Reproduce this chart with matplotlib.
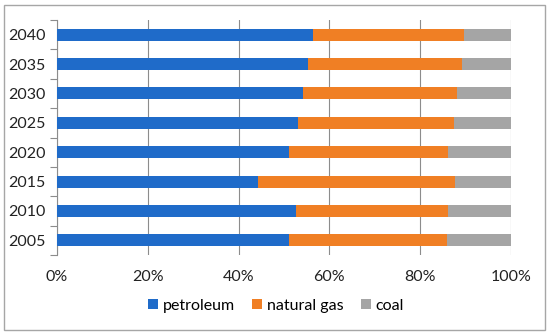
import numpy as np
import matplotlib
matplotlib.use('Agg')
import matplotlib.pyplot as plt
from matplotlib.patches import Rectangle, Patch

# Shares (percent)
years = ['2005', '2010', '2015', '2020', '2025', '2030', '2035', '2040']
petroleum = [51.1, 52.6, 44.2, 51.1, 53.0, 54.1, 55.3, 56.4]
natural_gas = [34.7, 33.5, 43.5, 35.0, 34.5, 33.9, 33.9, 33.2]
coal = [14.2, 13.9, 12.3, 13.9, 12.5, 12.0, 10.8, 10.4]

series_names = ['petroleum', 'natural gas', 'coal']
colors = ['#1F6BC9', '#F07F24', '#A5A5A5']

plt.rcParams['font.family'] = ['Lato', 'DejaVu Sans']

fig = plt.figure(figsize=(5.5, 3.34), dpi=100)
ax = fig.add_axes([0.1036, 0.2365, 0.8255, 0.7036])

y = np.arange(len(years))
left = np.zeros(len(years))
for vals, name, col in zip([petroleum, natural_gas, coal], series_names, colors):
    vals = np.array(vals)
    ax.barh(y, vals, left=left, height=0.41, color=col, label=name, zorder=3)
    left += vals

ax.set_xlim(0, 100)
ax.set_ylim(-0.5, len(years) - 0.5)
ax.set_xticks(np.arange(0, 101, 20))
ax.set_xticklabels([f'{v}%' for v in range(0, 101, 20)])
ax.set_yticks(y)
ax.set_yticklabels(years)
ax.set_yticks(np.arange(-0.5, len(years), 1), minor=True)

ax.tick_params(axis='y', which='major', length=0, pad=8, labelsize=11.5, labelcolor='#222222')
ax.tick_params(axis='y', which='minor', length=5, width=0.8, color='#8C8C8C')
ax.tick_params(axis='x', length=0, pad=11, labelsize=11.5, labelcolor='#222222')

ax.grid(axis='x', color='#8C8C8C', linewidth=0.8, zorder=0)
for s in ['top', 'right', 'bottom']:
    ax.spines[s].set_visible(False)
ax.spines['left'].set_color('#8C8C8C')
ax.spines['left'].set_linewidth(0.8)

handles = [Patch(facecolor=c, edgecolor='none') for c in colors]
fig.legend(handles, series_names, loc='center', bbox_to_anchor=(0.502, 0.084),
           ncol=3, frameon=False, fontsize=11.5, handlelength=0.6, handleheight=0.6,
           handletextpad=0.3, columnspacing=1.1)

fig.patches.append(Rectangle((4 / 550, 4 / 334), 541 / 550, 325 / 334, transform=fig.transFigure,
                             fill=False, edgecolor='#A6A6A6', linewidth=1.0))

fig.savefig('out.png', dpi=100)
